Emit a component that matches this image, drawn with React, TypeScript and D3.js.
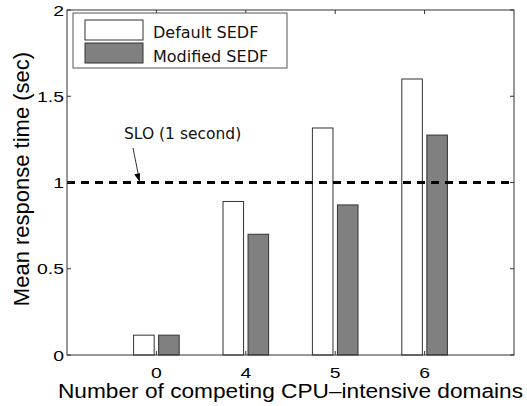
import React from 'react'
import * as d3 from 'd3'

const categories = ['0', '4', '5', '6']
const defaultSedf = [0.115, 0.89, 1.316, 1.6]
const modifiedSedf = [0.115, 0.70, 0.87, 1.275]
const yTicks = [0, 0.5, 1, 1.5, 2]
const seriesNames = ['Default SEDF', 'Modified SEDF']
const seriesColors = ['#ffffff', '#808080']
const slo = 1

const width = 527
const height = 406
const margin = { left: 67, right: 13, top: 10, bottom: 51 }

const App = () => {
  const x = d3.scaleLinear().domain([0, 5]).range([margin.left, width - margin.right])
  const y = d3.scaleLinear().domain([0, 2]).range([height - margin.bottom, margin.top])
  const barW = 0.23
  const off = 0.14
  const axisFont = '"Liberation Sans", Arial, sans-serif'
  const textFont = '"DejaVu Sans", sans-serif'
  const x0 = x.range()[0], x1 = x.range()[1]
  const y0 = y.range()[0], y1 = y.range()[1]
  const series = [defaultSedf, modifiedSedf]
  const bw = x(barW) - x(0)
  // the original figure is a bit stretched sideways
  const sx = 1.25

  return (
    <svg width={width} height={height} style={{ position: 'absolute', left: 0, top: 0, background: '#fff' }}>
      {/* bars */}
      {series.map((vals, s) =>
        vals.map((v, i) => {
          const cx = x(i + 1 + (s === 0 ? -off : off))
          return (
            <rect key={s + '-' + i} x={cx - bw / 2} y={y(v)} width={bw} height={y(0) - y(v)}
              fill={seriesColors[s]} stroke="#333" strokeWidth={1} />
          )
        })
      )}
      {/* SLO line */}
      <line x1={x0} x2={x1} y1={y(slo)} y2={y(slo)} stroke="#000" strokeWidth={3} strokeDasharray="8,6" />
      <text x={124} y={139} fontFamily={textFont} fontSize={15.5} fill="#111">SLO (1 second)</text>
      <line x1={133} y1={148} x2={139.5} y2={y(slo) - 2} stroke="#000" strokeWidth={0.8} />
      <path d={`M${139.5},${y(slo) - 1} l-4,-8 l6,0 z`} fill="#000" transform={`rotate(-10 139.5 ${y(slo) - 1})`} />
      {/* axes box */}
      <rect x={x0} y={y1} width={x1 - x0} height={y0 - y1} fill="none" stroke="#333" strokeWidth={1} />
      {yTicks.map(t => (
        <g key={'y' + t}>
          <line x1={x0} x2={x0 + 4} y1={y(t)} y2={y(t)} stroke="#333" />
          <line x1={x1} x2={x1 - 4} y1={y(t)} y2={y(t)} stroke="#333" />
          <text transform={`translate(${x0 - 3},${y(t) + 5.5}) scale(${sx},1)`} textAnchor="end"
            fontFamily={axisFont} fontSize={15.5} fill="#000">{t}</text>
        </g>
      ))}
      {categories.map((c, i) => (
        <g key={'x' + c}>
          <line x1={x(i + 1)} x2={x(i + 1)} y1={y0} y2={y0 - 4} stroke="#333" />
          <line x1={x(i + 1)} x2={x(i + 1)} y1={y1} y2={y1 + 4} stroke="#333" />
          <text transform={`translate(${x(i + 1)},377.5) scale(${sx},1)`} textAnchor="middle"
            fontFamily={axisFont} fontSize={15.5} fill="#000">{c}</text>
        </g>
      ))}
      <text x={58} y={398} textLength={465} lengthAdjust="spacingAndGlyphs" fontFamily={axisFont} fontSize={19.5} fill="#000">
        Number of competing CPU–intensive domains
      </text>
      <text transform={`translate(29,179) rotate(-90)`} textAnchor="middle" fontFamily={axisFont} fontSize={22} fill="#000">
        Mean response time (sec)
      </text>
      {/* legend */}
      <rect x={73} y={13} width={214} height={55} fill="#fff" stroke="#555" strokeWidth={1} />
      {seriesNames.map((n, i) => (
        <g key={n}>
          <rect x={85} y={20 + i * 23} width={58} height={20} fill={seriesColors[i]} stroke="#333" />
          <text x={153} y={37.5 + i * 24.5} fontFamily={textFont} fontSize={16} fill="#111">{n}</text>
        </g>
      ))}
    </svg>
  )
}

export default App
